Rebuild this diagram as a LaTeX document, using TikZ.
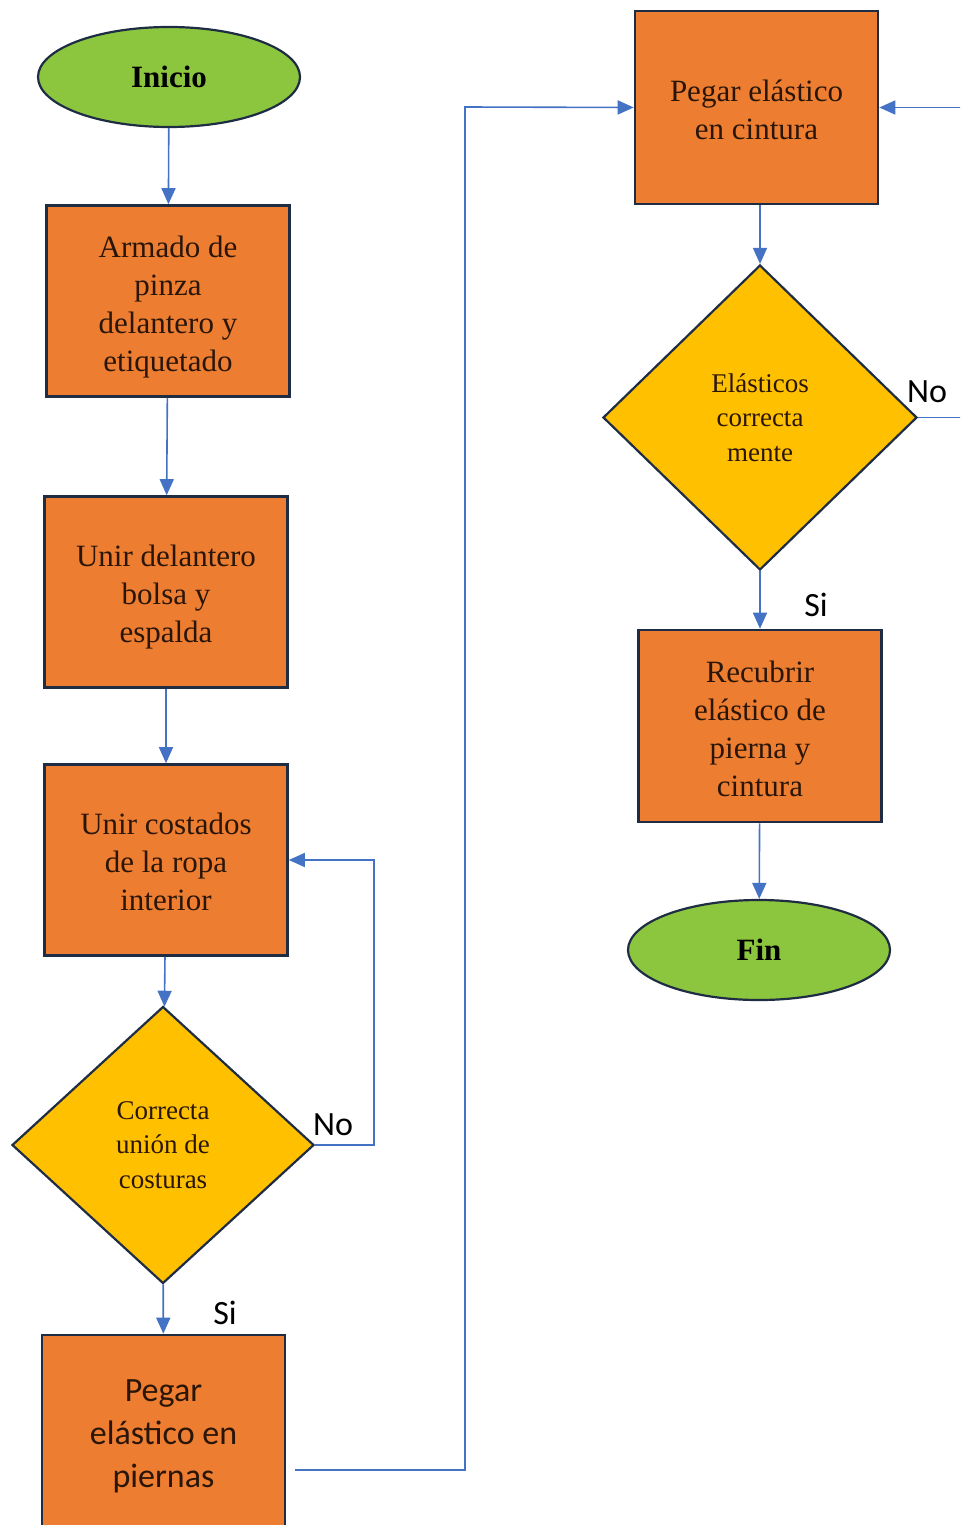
\documentclass[tikz,border=0pt]{standalone}
\usepackage{fontspec}
\setmainfont{Liberation Serif}
\newfontfamily\calibri{Carlito}
\usetikzlibrary{shapes.geometric,arrows.meta}
\definecolor{procfill}{HTML}{ED7D31}
\definecolor{decfill}{HTML}{FFC000}
\definecolor{termfill}{HTML}{8CC63E}
\definecolor{edge}{HTML}{1F2D44}
\definecolor{flow}{HTML}{4472C4}
\definecolor{ink}{HTML}{2A1608}
\begin{document}
\begin{tikzpicture}[x=0.5pt,y=-0.5pt,
  procbox/.style={rectangle,draw=edge,line width=1.3pt,fill=procfill,
    minimum width=121.5pt,minimum height=95.5pt,inner sep=0pt},
  boxtext/.style={inner sep=0pt,align=center,text=ink,
    font=\fontsize{15.5}{19}\selectfont},
  sanstext/.style={inner sep=0pt,align=center,text=ink,
    font=\calibri\fontsize{17}{21.5}\selectfont},
  decision/.style={diamond,draw=edge,line width=1.1pt,fill=decfill,
    minimum width=151pt,minimum height=138.5pt,inner sep=0pt,align=center,
    text=ink,font=\fontsize{13.5}{17.2}\selectfont},
  terminal/.style={ellipse,draw=edge,line width=1.1pt,fill=termfill,
    minimum width=131pt,minimum height=50pt,inner sep=0pt,
    text=black,font=\fontsize{15.5}{18}\selectfont\bfseries},
  arr/.style={draw=flow,line width=0.8pt,-{Triangle[width=7pt,length=8pt]}},
  lbl/.style={inner sep=0pt,text=black,font=\calibri\fontsize{17}{20}\selectfont}]
\useasboundingbox (0,0) rectangle (960,1525);
\begin{scope}
\clip (0,0) rectangle (960,1525);

% left column
\node[terminal] (inicio) at (169,77) {Inicio};
\node[procbox] (armado) at (168,301) {};
\node[boxtext] (armado-t) at ([yshift=-3pt]armado.center) {Armado de\\pinza\\delantero y\\etiquetado};
\node[procbox] (unirdel) at (166,592) {};
\node[boxtext] (unirdel-t) at ([yshift=-2.5pt]unirdel.center) {Unir delantero\\bolsa y\\espalda};
\node[procbox] (unircos) at (166,860) {};
\node[boxtext] (unircos-t) at ([yshift=-1pt]unircos.center) {Unir costados\\de la ropa\\interior};
\node[decision] (corr) at (163,1145) {Correcta\\unión de\\costuras};
\node[procbox,minimum height=102.5pt] (piernas) at (163.5,1437.5) {};
\node[sanstext] (piernas-t) at (163.5,1436) {Pegar\\elástico en\\piernas};

% right column
\node[procbox,minimum height=96.5pt] (cintura) at (756.5,107.5) {};
\node[boxtext] (cintura-t) at ([yshift=-1pt]cintura.center) {Pegar elástico\\en cintura};
\node[decision,minimum width=157pt,minimum height=152.5pt] (elast) at (760,417.5) {Elásticos\\correcta\\mente};
\node[procbox,minimum height=96pt] (recubrir) at (760,726) {};
\node[boxtext] (recubrir-t) at ([yshift=-1.5pt]recubrir.center) {Recubrir\\elástico de\\pierna y\\cintura};
\node[terminal] (fin) at (759,950) {Fin};

% branch labels
\node[lbl] (no1) at (333,1125) {No};
\node[lbl] (si1) at (225,1313) {Si};
\node[lbl] (no2) at (927,392) {No};
\node[lbl] (si2) at (816,605) {Si};

% connectors
\coordinate (s4) at (295,1470);
\coordinate (j1) at (465,107);
\draw[arr] (inicio) -- (armado);
\draw[arr] (armado) -- (unirdel);
\draw[arr] (unirdel) -- (unircos);
\draw[arr] (unircos) -- (corr);
\draw[arr] (corr.east) -- ++(59,0) |- (unircos.east);
\draw[arr] (corr) -- (piernas);
\draw[arr] (s4) -| (j1) -- (cintura.west);
\draw[arr] (cintura.south -| elast.north) -- (elast.north);
\draw[arr] (elast.east) -- ++(58,0) |- (cintura.east);
\draw[arr] (elast) -- (recubrir);
\draw[arr] (recubrir) -- (fin);
\end{scope}
\end{tikzpicture}
\end{document}
